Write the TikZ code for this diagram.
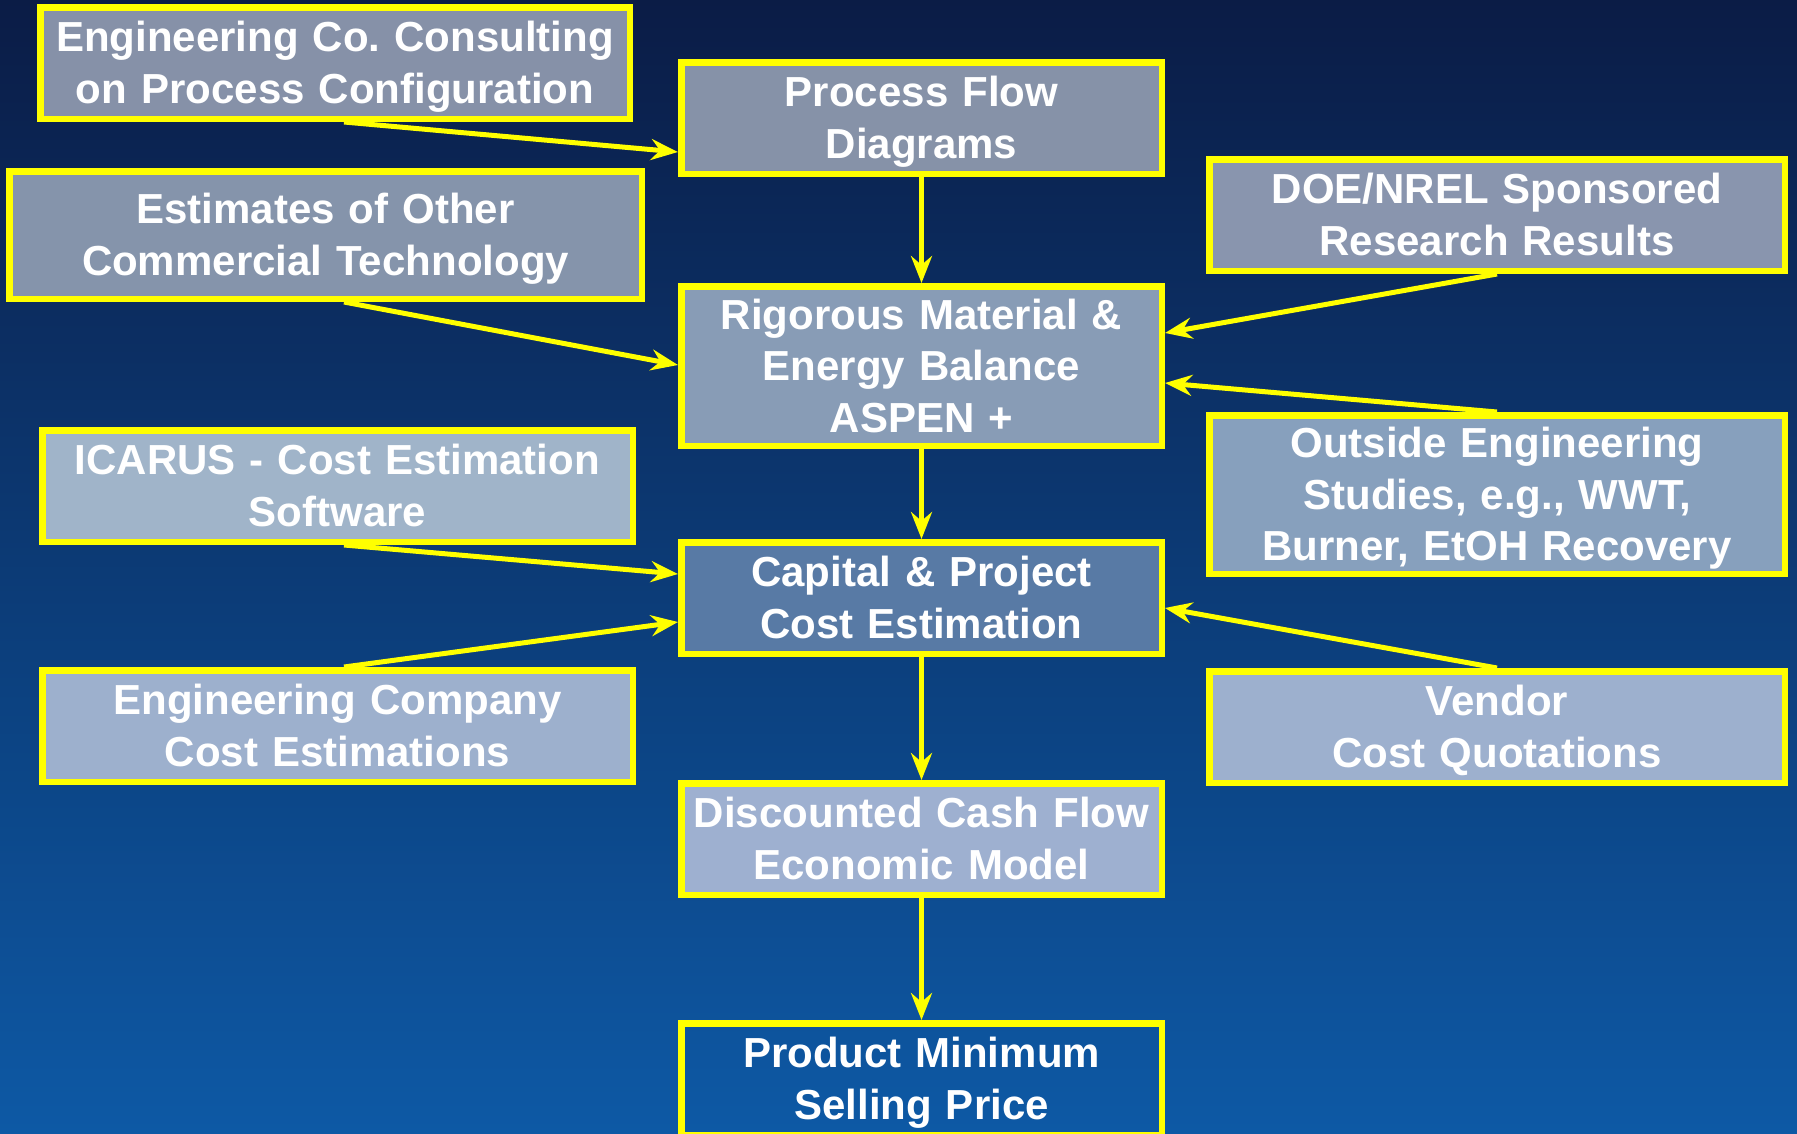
\documentclass[tikz,border=0pt]{standalone}
\usepackage{fontspec}
\setmainfont{Liberation Sans}
\usetikzlibrary{arrows.meta,calc}
\definecolor{bgtop}{HTML}{0B1C46}
\definecolor{bgmid}{HTML}{0C4382}
\definecolor{bgbot}{HTML}{0D59A5}
\definecolor{boxyellow}{HTML}{FFFF00}
\definecolor{fengco}{HTML}{8691A8}
\definecolor{fpfd}{HTML}{8692A8}
\definecolor{fest}{HTML}{8594AB}
\definecolor{fdoe}{HTML}{8995AE}
\definecolor{frig}{HTML}{889CB6}
\definecolor{fout}{HTML}{87A0BD}
\definecolor{fica}{HTML}{A0B4C9}
\definecolor{fcap}{HTML}{587AA5}
\definecolor{fecc}{HTML}{9DB0CD}
\definecolor{fven}{HTML}{9DB0CE}
\definecolor{fdcf}{HTML}{9EB0D0}
\newcommand\pptstrut{\rule[-0.212em]{0pt}{1.117em}}
\frenchspacing
\begin{document}
\begin{tikzpicture}[x=1pt,y=-1pt,
  box/.style={draw=boxyellow, line width=6.5pt, inner sep=0pt, align=center,
    text=white, font=\fontsize{42}{51.5}\selectfont\bfseries\frenchspacing,
    execute at begin node=\pptstrut, execute at end node=\pptstrut},
  midbox/.style={box, minimum width=480.5pt, text width=474pt},
  lbox/.style={box, minimum width=590.5pt, text width=584pt},
  rbox/.style={box, minimum width=575.5pt, text width=569pt},
  flow/.style={draw=boxyellow, line width=5pt,
    -{Stealth[length=27pt,width=21pt,inset=9pt]}}]
\useasboundingbox (0,0) rectangle (1797,1133);
\shade[top color=bgtop, middle color=bgmid, bottom color=bgbot] (0,0) rectangle (1797,1133);

% central column
\node[midbox, fill=fpfd, minimum height=111.5pt] (pfd) at (921.5,118) {Process Flow\\Diagrams};
\node[midbox, fill=frig, minimum height=159.5pt] (rig) at (921.5,366) {Rigorous Material \&\\Energy Balance\\ASPEN +};
\node[midbox, fill=fcap, minimum height=111.5pt] (cap) at (921.5,598) {Capital \& Project\\Cost Estimation};
\node[midbox, fill=fdcf, minimum height=111.5pt] (dcf) at (921.5,839) {Discounted Cash Flow\\Economic Model};
\node[midbox, minimum height=111.5pt] (msp) at (921.5,1079) {Product Minimum\\Selling Price};

% left column
\node[box, fill=fengco, minimum width=589.5pt, text width=584pt, minimum height=111.5pt] (engco) at (335,63) {Engineering Co. Consulting\\on Process Configuration};
\node[box, fill=fest, minimum width=632.5pt, text width=626pt, minimum height=127.5pt] (est) at (325.5,235) {Estimates of Other\\Commercial Technology};
\node[lbox, fill=fica, minimum height=111.5pt] (ica) at (337.5,486) {ICARUS - Cost Estimation\\Software};
\node[lbox, fill=fecc, minimum height=111.5pt] (ecc) at (337.5,726) {Engineering Company\\Cost Estimations};

% right column
\node[rbox, fill=fdoe, minimum height=111.5pt] (doe) at (1497,215) {DOE/NREL Sponsored\\Research Results};
\node[rbox, fill=fout, minimum height=158.5pt] (out) at (1497,494.5) {Outside Engineering\\Studies, e.g., WWT,\\Burner, EtOH Recovery};
\node[rbox, fill=fven, minimum height=111.5pt] (ven) at (1497,727) {Vendor\\Cost Quotations};

% vertical flow
\draw[flow] (pfd.south) -- (rig.north);
\draw[flow] (rig.south) -- (cap.north);
\draw[flow] (cap.south) -- (dcf.north);
\draw[flow] (dcf.south) -- (msp.north);

% left inputs
\draw[flow] (engco.south -| 344,0) -- (pfd.west |- 0,152);
\draw[flow] (est.south -| 344,0) -- (rig.west |- 0,365);
\draw[flow] (ica.south -| 344,0) -- (cap.west |- 0,574);
\draw[flow] (ecc.north -| 344,0) -- (cap.west |- 0,622);

% right inputs
\draw[flow] (doe.south) -- (rig.east |- 0,333);
\draw[flow] (out.north) -- (rig.east |- 0,383);
\draw[flow] (ven.north) -- (cap.east |- 0,608);
\end{tikzpicture}
\end{document}
